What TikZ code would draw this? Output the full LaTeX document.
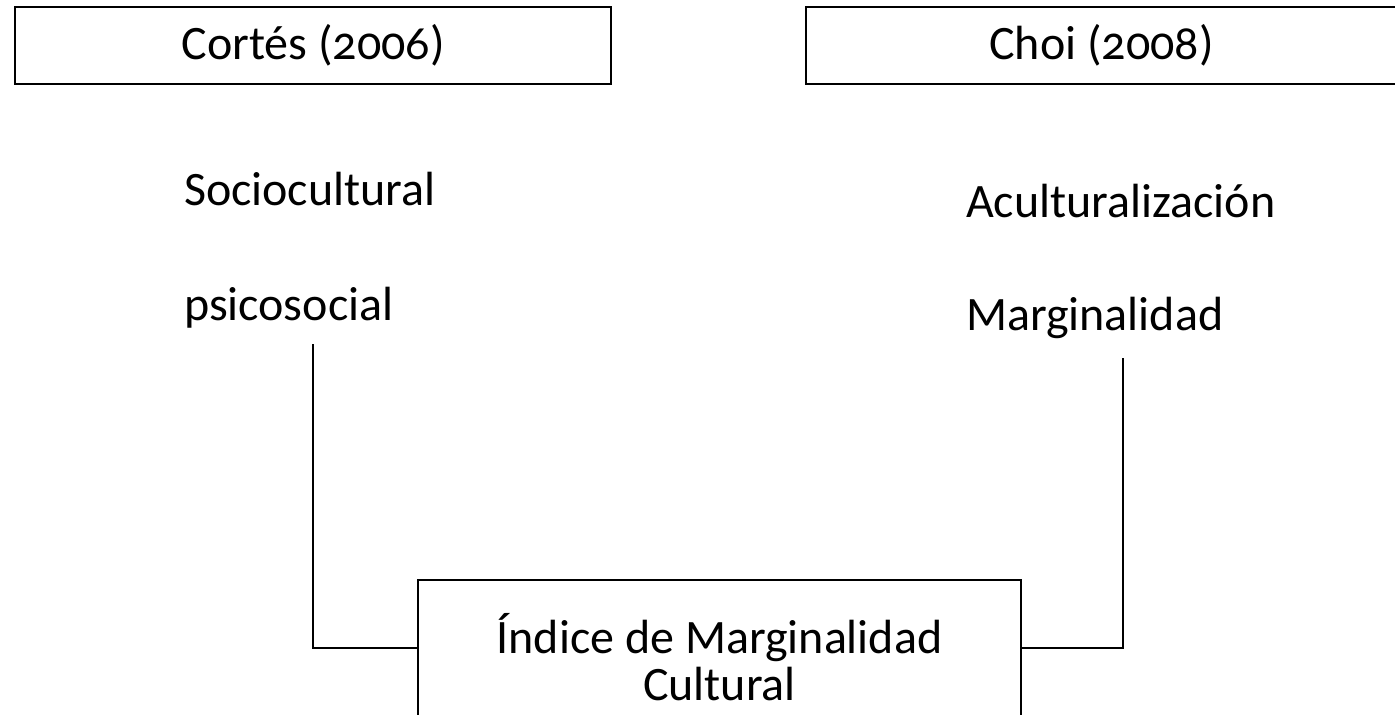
\documentclass[tikz,border=0pt]{standalone}
\usepackage{fontspec}
\setmainfont[Numbers=OldStyle]{Carlito}
\usetikzlibrary{calc}

\begin{document}
\begin{tikzpicture}[x=0.5pt, y=-0.5pt, line width=1pt,
    box/.style={draw, rectangle, inner sep=0pt},
    lbl/.style={inner sep=0pt, anchor=base west},
    font=\fontsize{24}{28}\selectfont]
            \useasboundingbox (0,0) rectangle (1395,714);
            \clip (0,0) rectangle (1395,714);
            \node[box, minimum width=298pt, minimum height=38.5pt] (cortes) at (313,45.5) {Cortés (2006)};
            \node[box, minimum width=295.5pt, minimum height=38.5pt] (choi) at (1101.5,45.5) {Choi (2008)};
            \node[lbl] (socio) at (183,205) {Sociocultural};
            \node[lbl] (psico) at (183,320) {psicosocial};
            \node[lbl] (acult) at (965,217) {Aculturalización};
            \node[lbl] (margi) at (965,330) {Marginalidad};
            \node[box, minimum width=301.5pt, minimum height=68pt] (indice) at (719.5,648) {};
            \node[inner sep=0pt, anchor=base] (indtxt) at (719.5,653) {Índice de Marginalidad};
            \node[inner sep=0pt, anchor=base] (cultxt) at (719.5,700) {Cultural};
            \coordinate (p) at (313,344); \coordinate (m) at (1123,358);
            \draw (p) |- (indice.west);
            \draw (m) |- (indice.east);
        \end{tikzpicture}
\end{document}
